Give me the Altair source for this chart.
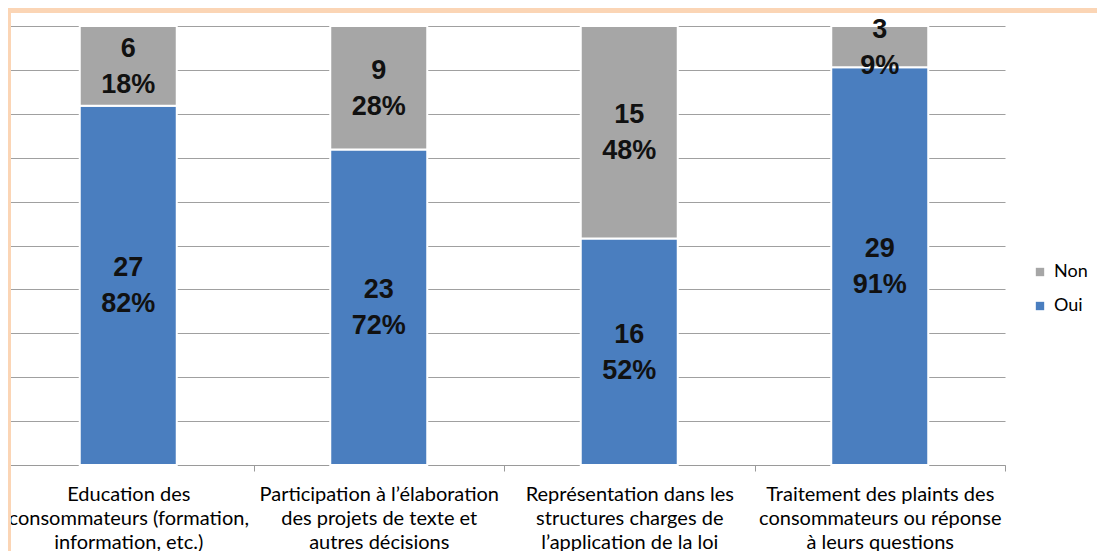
import altair as alt
import pandas as pd

categories = [
    "Education des\nconsommateurs (formation,\ninformation, etc.)",
    "Participation à l’élaboration\ndes projets de texte et\nautres décisions",
    "Représentation dans les\nstructures charges de\nl’application de la loi",
    "Traitement des plaints des\nconsommateurs ou réponse\nà leurs questions",
]
oui_counts = [27, 23, 16, 29]
non_counts = [6, 9, 15, 3]
oui_pct = ["82%", "72%", "52%", "91%"]
non_pct = ["18%", "28%", "48%", "9%"]
series = ["Non", "Oui"]
series_colors = ["#A6A6A6", "#4A7EBF"]

rows = []
for i, c in enumerate(categories):
    rows.append({"cat": c, "reponse": "Oui", "count": oui_counts[i], "pct": oui_pct[i], "ord": 0})
    rows.append({"cat": c, "reponse": "Non", "count": non_counts[i], "pct": non_pct[i], "ord": 1})
df = pd.DataFrame(rows)

base = alt.Chart(df).transform_stack(
    stack="count", as_=["y0", "y1"], groupby=["cat"], offset="normalize",
    sort=[alt.SortField("ord", order="ascending")]
).transform_calculate(
    ymid="(datum.y0 + datum.y1) / 2",
    label="datum.count + '\\n' + datum.pct",
)

x_scale = alt.Scale(range=[-5, 997], paddingInner=0, paddingOuter=0)

x_enc = alt.X(
    "cat:N", sort=categories, scale=x_scale,
    axis=alt.Axis(
        title=None, labelExpr="split(datum.label, '\\n')", labelFont="Lato",
        labelFontSize=20, labelColor="#000000", labelAngle=0, tickBand="extent",
        tickSize=6, tickColor="#9a9a9a", domainColor="#9a9a9a", labelPadding=13,
        labelLineHeight=24, labelLimit=400, labelBaseline="top", grid=False,
    ),
)

bars = base.mark_bar(stroke="white", strokeWidth=2, width=97).encode(
    x=x_enc,
    y=alt.Y("y0:Q", scale=alt.Scale(domain=[0, 1]),
            axis=alt.Axis(title=None, labels=False, ticks=False, domain=False,
                          grid=True, gridColor="#a0a0a0", gridWidth=1.2,
                          values=[i / 10 for i in range(11)])),
    y2="y1:Q",
    color=alt.Color("reponse:N",
                    scale=alt.Scale(domain=series, range=series_colors),
                    legend=alt.Legend(title=None, orient="none", legendX=1023, legendY=237,
                                      labelFont="Lato", labelFontSize=18, labelColor="#000000",
                                      symbolType="square", symbolSize=70, rowPadding=16,
                                      symbolStrokeWidth=0, labelOffset=5)),
)

labels = base.mark_text(font="Liberation Sans", fontWeight="bold", fontSize=27,
                        lineBreak="\n", lineHeight=36, baseline="middle", dy=-17,
                        color="#111111").encode(
    x=alt.X("cat:N", sort=categories),
    y=alt.Y("ymid:Q"),
    text="label:N",
)

frame_df = pd.DataFrame({"k": [0]})
frame_top = alt.Chart(frame_df).mark_rect(color="#FBD5B5").encode(
    x=alt.value(0), x2=alt.value(1097), y=alt.value(-18), y2=alt.value(-13))
frame_left = alt.Chart(frame_df).mark_rect(color="#FBD5B5").encode(
    x=alt.value(0), x2=alt.value(3), y=alt.value(-18), y2=alt.value(540))

chart = alt.layer(bars, labels, frame_top, frame_left).properties(
    width=997, height=439,
    padding={"left": 0, "top": 18, "right": 92, "bottom": 86},
    autosize=alt.AutoSizeParams(type="none"),
    background="white",
).configure_view(stroke=None)

chart.save("out.html", embed_options={"renderer": "svg", "actions": False})
